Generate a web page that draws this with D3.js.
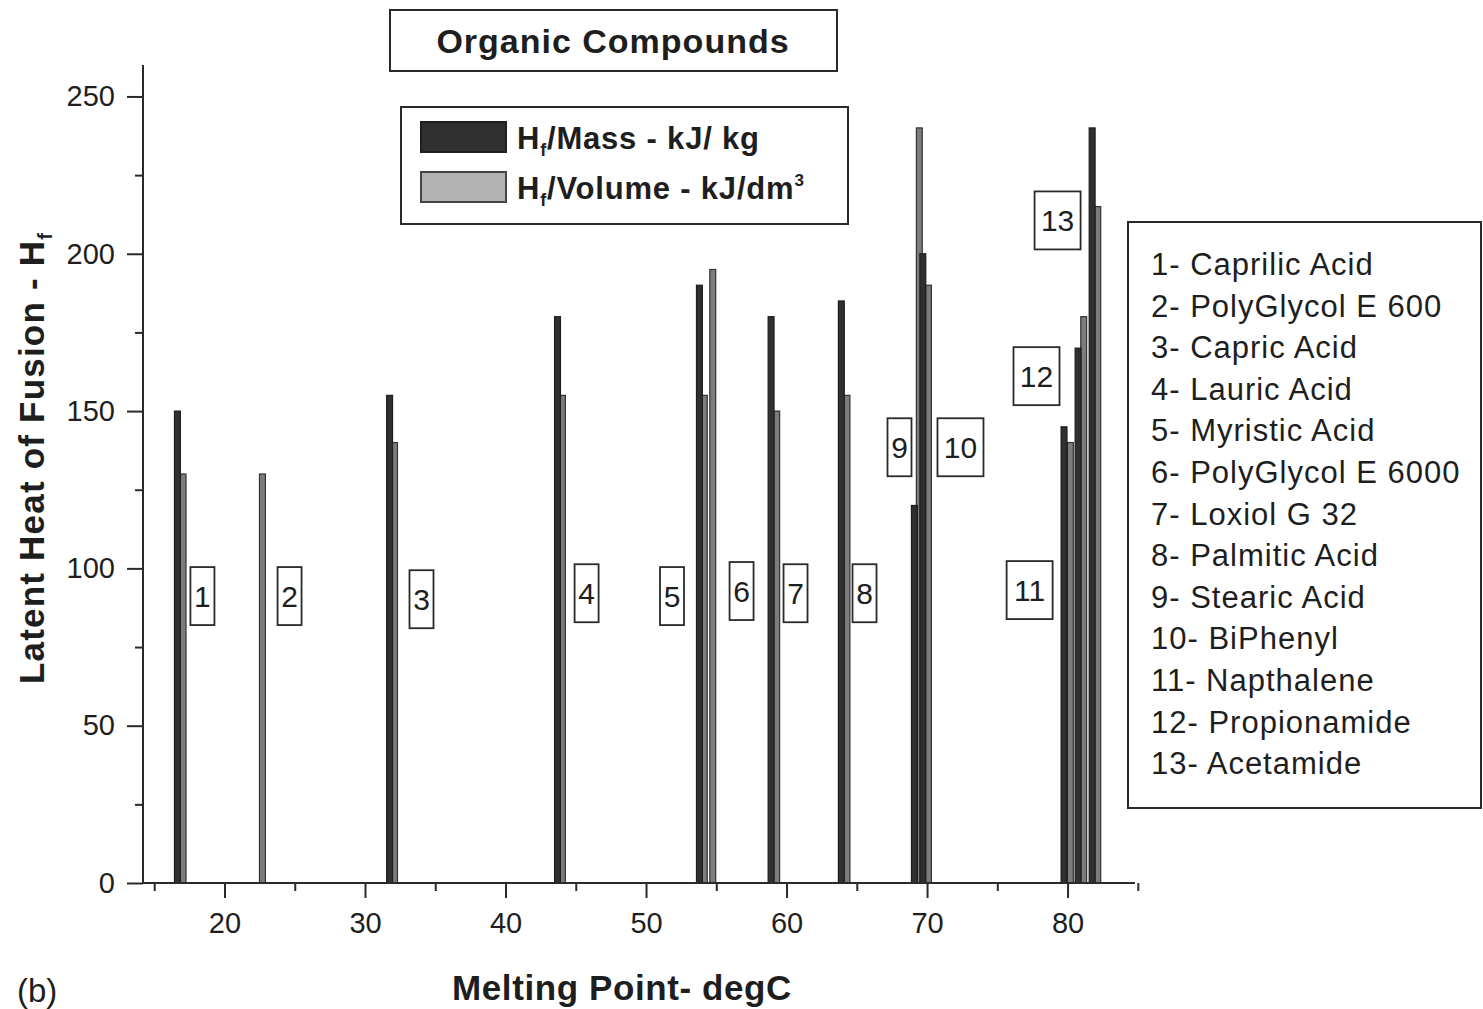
<!DOCTYPE html>
<html>
<head>
<meta charset="utf-8">
<script src="https://cdn.jsdelivr.net/npm/d3@7"></script>
<style>
  html, body { margin: 0; padding: 0; background: #ffffff; }
  svg { display: block; }
  text { font-family: "Liberation Sans", Arial, Helvetica, sans-serif; fill: #1e1e1e; }
</style>
</head>
<body>
<svg id="chart" width="1483" height="1009"></svg>
<script>
// ---- data -------------------------------------------------------------
const compoundNames = [
  "1- Caprilic Acid", "2- PolyGlycol E 600", "3- Capric Acid", "4- Lauric Acid",
  "5- Myristic Acid", "6- PolyGlycol E 6000", "7- Loxiol G 32", "8- Palmitic Acid",
  "9- Stearic Acid", "10- BiPhenyl", "11- Napthalene", "12- Propionamide", "13- Acetamide"
];
const tagLabels = ["1","2","3","4","5","6","7","8","9","10","11","12","13"];

// melting point (degC) and heat of fusion per mass (kJ/kg)
const massMelt = [16.65, null, 31.75, 43.7, 53.8, null, 58.9, 63.9, 69.1, 69.7, 79.75, 80.75, 81.75];
const massHeat = [150, null, 155, 180, 190, null, 180, 185, 120, 200, 145, 170, 240];
// melting point (degC) and heat of fusion per volume (kJ/dm3)
const volMelt = [17.05, 22.7, 32.1, 44.05, 54.15, 54.75, 59.3, 64.3, 69.45, 70.1, 80.2, 81.15, 82.15];
const volHeat = [130, 130, 140, 155, 155, 195, 150, 155, 240, 190, 140, 180, 215];

// number tags placed in data units (degC, kJ)
const tagMelt = [18.43, 24.63, 34.02, 45.77, 51.85, 56.8, 60.64, 65.55, 68.04, 72.38, 77.3, 77.79, 79.29];
const tagHeat = [91.2, 91.2, 90.2, 92.1, 91.2, 92.8, 92.1, 92.1, 138.5, 138.5, 93.1, 161.1, 210.6];

const xMajorTicks = [20, 30, 40, 50, 60, 70, 80];
const xMinorTicks = [15, 25, 35, 45, 55, 65, 75, 85];
const yMajorTicks = [0, 50, 100, 150, 200, 250];
const yMinorTicks = [25, 75, 125, 175, 225];

// ---- layout -----------------------------------------------------------
const svg = d3.select("#chart");
const axisColor = "#2a2a2a";
const massFill = "#303030";
const volFill = "#7c7c7c";

const x = d3.scaleLinear().domain([14.2, 84.8]).range([143, 1135]);
const y = d3.scaleLinear().domain([0, 260]).range([883, 65]);
const barW = 0.42; // bar width in degC

// ---- bars -------------------------------------------------------------
const volData = volMelt.map((m, i) => ({ m, v: volHeat[i] })).filter(d => d.m != null);
const massData = massMelt.map((m, i) => ({ m, v: massHeat[i] })).filter(d => d.m != null);

function barRect(sel, fill, stroke) {
  sel.attr("x", d => x(d.m - barW / 2))
     .attr("width", d => x(d.m + barW / 2) - x(d.m - barW / 2))
     .attr("y", d => y(d.v))
     .attr("height", d => y(0) - y(d.v))
     .attr("fill", fill)
     .attr("stroke", stroke)
     .attr("stroke-width", 1.2);
}

svg.append("g").selectAll("rect").data(volData).join("rect")
  .call(barRect, volFill, "#333333");
svg.append("g").selectAll("rect").data(massData).join("rect")
  .call(barRect, massFill, "#1e1e1e");

// ---- axes -------------------------------------------------------------
const xAxis = svg.append("g").attr("transform", `translate(0,${y(0)})`);
xAxis.call(d3.axisBottom(x).tickValues(xMajorTicks).tickSize(15).tickPadding(14).tickFormat(d3.format("d")));
xAxis.append("g").call(d3.axisBottom(x).tickValues(xMinorTicks).tickSize(8).tickFormat(""));
xAxis.selectAll(".domain").remove();
xAxis.append("line").attr("x1", x(14.2)).attr("x2", x(84.8)).attr("stroke", axisColor).attr("stroke-width", 2);

const yAxis = svg.append("g").attr("transform", `translate(${x(14.2)},0)`);
yAxis.call(d3.axisLeft(y).tickValues(yMajorTicks).tickSize(16).tickPadding(12).tickFormat(d3.format("d")));
yAxis.append("g").call(d3.axisLeft(y).tickValues(yMinorTicks).tickSize(8).tickFormat(""));
yAxis.selectAll(".domain").remove();
yAxis.append("line").attr("y1", y(0)).attr("y2", y(260)).attr("stroke", axisColor).attr("stroke-width", 2);

svg.selectAll(".tick line").attr("stroke", axisColor).attr("stroke-width", 2);
svg.selectAll(".tick text")
  .style("font-family", '"Liberation Sans", Arial, sans-serif')
  .style("font-size", "29px").attr("fill", "#1e1e1e");

// axis titles
svg.append("text")
  .attr("x", 622).attr("y", 1000)
  .attr("text-anchor", "middle")
  .style("font-size", "35px").style("font-weight", "bold").style("letter-spacing", "0.6px")
  .text("Melting Point- degC");

const yTitle = svg.append("text")
  .attr("transform", "translate(44,458) rotate(-90)")
  .attr("text-anchor", "middle")
  .style("font-size", "35px").style("font-weight", "bold").style("letter-spacing", "1.2px");
yTitle.append("tspan").text("Latent Heat of Fusion - H");
yTitle.append("tspan").attr("dy", 8).style("font-size", "20px").text("f");

svg.append("text")
  .attr("x", 17).attr("y", 1002)
  .style("font-size", "33px")
  .text("(b)");

// ---- title box --------------------------------------------------------
svg.append("rect").attr("x", 390).attr("y", 10).attr("width", 447).attr("height", 61)
  .attr("fill", "#fff").attr("stroke", axisColor).attr("stroke-width", 2);
svg.append("text").attr("x", 613).attr("y", 53).attr("text-anchor", "middle")
  .style("font-size", "34px").style("font-weight", "bold").style("letter-spacing", "1px")
  .text("Organic Compounds");

// ---- series legend ----------------------------------------------------
const leg = svg.append("g");
leg.append("rect").attr("x", 401).attr("y", 107).attr("width", 447).attr("height", 117)
  .attr("fill", "#fff").attr("stroke", axisColor).attr("stroke-width", 2);
const legItems = [
  { fill: massFill, stroke: "#1e1e1e", main: "/Mass - kJ/ kg", sup: null },
  { fill: "#b2b2b2", stroke: "#444", main: "/Volume - kJ/dm", sup: "3" }
];
legItems.forEach((it, i) => {
  const cy = 137 + i * 50;
  leg.append("rect").attr("x", 421).attr("y", cy - 15).attr("width", 85).attr("height", 30)
    .attr("fill", it.fill).attr("stroke", it.stroke).attr("stroke-width", 2);
  const t = leg.append("text").attr("x", 517).attr("y", cy + 12)
    .style("font-size", "31px").style("font-weight", "bold").style("letter-spacing", "0.8px");
  t.append("tspan").text("H");
  t.append("tspan").attr("dy", 7).style("font-size", "18px").text("f");
  t.append("tspan").attr("dy", -7).text(it.main);
  if (it.sup) t.append("tspan").attr("dy", -13).style("font-size", "17px").text(it.sup);
});

// ---- number tags ------------------------------------------------------
const tags = svg.append("g");
tagLabels.forEach((lab, i) => {
  const cx = x(tagMelt[i]), cy = y(tagHeat[i]);
  const w = lab.length > 1 ? 46 : 24, h = 58;
  tags.append("rect").attr("x", cx - w / 2).attr("y", cy - h / 2).attr("width", w).attr("height", h)
    .attr("fill", "#fff").attr("stroke", axisColor).attr("stroke-width", 1.8);
  tags.append("text").attr("x", cx).attr("y", cy + 11).attr("text-anchor", "middle")
    .style("font-size", "30px").text(lab);
});

// ---- compound list ----------------------------------------------------
const list = svg.append("g");
list.append("rect").attr("x", 1128).attr("y", 222).attr("width", 353).attr("height", 586)
  .attr("fill", "#fff").attr("stroke", axisColor).attr("stroke-width", 2);
list.selectAll("text").data(compoundNames).join("text")
  .attr("x", 1151)
  .attr("y", (d, i) => 275 + i * 41.6)
  .style("font-size", "31px").style("letter-spacing", "1px")
  .text(d => d);
</script>
</body>
</html>
